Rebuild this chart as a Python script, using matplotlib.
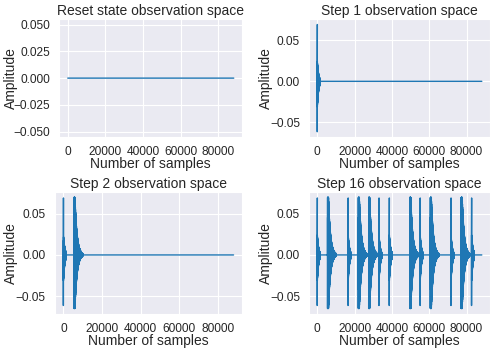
import numpy as np
import matplotlib.pyplot as plt
import seaborn as sns

sns.set_style("darkgrid")
plt.rcParams["font.family"] = ["Liberation Sans", "DejaVu Sans"]

# 2 seconds of audio, 16 sequencer steps
n_samples = 88200
step_len = 5512

titles = [
    "Reset state observation space",
    "Step 1 observation space",
    "Step 2 observation space",
    "Step 16 observation space",
]

# which steps hold a short (hat) hit and a long (kick) hit in each panel
short_steps = [[], [0], [0], [0, 3, 6, 7, 10, 13, 15]]
long_steps = [[], [], [1], [1, 4, 5, 9, 11, 14]]

# hit shapes: peak up, peak down, length in samples
short_peak = [0.071, -0.063]
short_body = [0.027, -0.035]
short_len = 1500
long_peak = [0.071, -0.066]
long_len = 4500

reset_yticks = [-0.05, -0.025, 0.0, 0.025, 0.05]
xticks = [0, 20000, 40000, 60000, 80000]

# axes boxes in figure fractions [left, bottom, width, height]
boxes = [
    [0.1204, 0.606, 0.3696, 0.339],
    [0.6255, 0.606, 0.3665, 0.339],
    [0.111, 0.0977, 0.379, 0.351],
    [0.6255, 0.0977, 0.3665, 0.351],
]
ylabel_x = [-0.225, -0.199, -0.198, -0.199]


def short_hit():
    t = np.arange(short_len)
    env_up = short_body[0] * np.exp(-t / 700.0)
    env_dn = short_body[1] * np.exp(-t / 700.0)
    env_up[:60] = short_peak[0]
    env_dn[:60] = short_peak[1]
    ph = np.sin(2 * np.pi * t / 14.0)
    return np.where(ph >= 0, env_up * ph, -env_dn * ph)


def long_hit():
    t = np.arange(long_len)
    env = np.exp(-np.clip(t - 500, 0, None) / 1100.0)
    ph = np.sin(2 * np.pi * t / 18.0)
    return np.where(ph >= 0, long_peak[0] * env * ph, -long_peak[1] * env * ph)


def build(shorts, longs):
    y = np.zeros(n_samples)
    for s in shorts:
        h = short_hit()
        a = s * step_len
        b = min(a + len(h), n_samples)
        y[a:b] += h[: b - a]
    for s in longs:
        h = long_hit()
        a = s * step_len
        b = min(a + len(h), n_samples)
        y[a:b] += h[: b - a]
    return y


fig, axes = plt.subplots(2, 2, figsize=(4.94, 3.48), dpi=100)
for i, (ax, title, sh, lo) in enumerate(zip(axes.flat, titles, short_steps, long_steps)):
    y = build(sh, lo)
    ax.plot(np.arange(n_samples), y, color="#1f77b4", lw=1.0)
    ax.set_title(title, fontsize=10, pad=3)
    ax.set_xlabel("Number of samples", fontsize=10, labelpad=-1)
    ax.set_ylabel("Amplitude", fontsize=10)
    ax.tick_params(labelsize=8.6, pad=3)
    ax.set_xticks(xticks)
    if i == 0:
        ax.set_yticks(reset_yticks)
    ax.set_position(boxes[i])
    ax.yaxis.set_label_coords(ylabel_x[i], 0.5)

fig.savefig("out.png")
